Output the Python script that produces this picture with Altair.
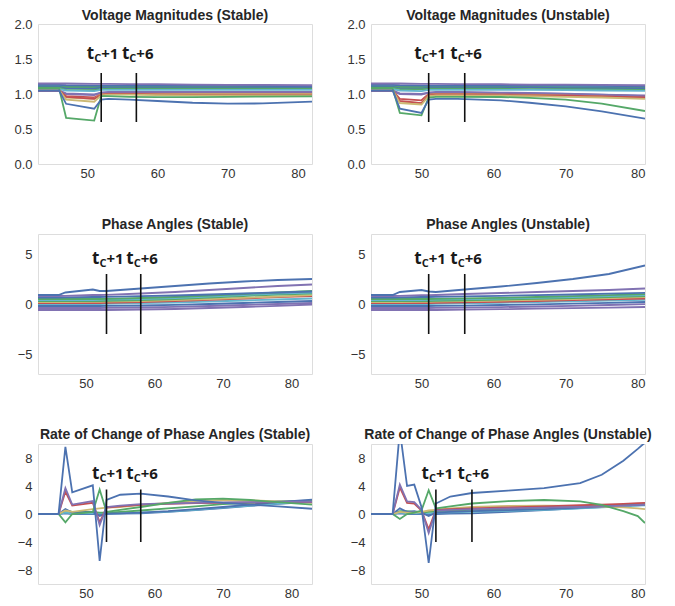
import altair as alt
import pandas as pd

PALETTE = {"blue": "#4C72B0", "green": "#55A868", "red": "#C44E52",
           "purple": "#8172B2", "yellow": "#CCB974", "cyan": "#64B5CD"}

# ---------------- Voltage magnitudes (stable) ----------------
vs_x = [43, 46, 47, 51, 52, 53, 56, 60, 65, 70, 75, 82]
vs_series = {
    "cyan2":   [1.12, 1.12, 1.11, 1.11, 1.11, 1.11, 1.11, 1.11, 1.11, 1.11, 1.11, 1.11],
    "green3":  [1.11, 1.11, 1.10, 1.10, 1.10, 1.10, 1.10, 1.10, 1.10, 1.10, 1.10, 1.10],
    "blue2":   [1.10, 1.10, 1.08, 1.075, 1.09, 1.09, 1.09, 1.09, 1.09, 1.09, 1.09, 1.09],
    "green2":  [1.09, 1.09, 1.06, 1.055, 1.07, 1.075, 1.075, 1.075, 1.075, 1.075, 1.075, 1.075],
    "cyan1":   [1.07, 1.07, 1.05, 1.04, 1.06, 1.06, 1.06, 1.06, 1.06, 1.06, 1.06, 1.06],
    "purple3": [1.04, 1.04, 1.00, 0.985, 1.02, 1.02, 1.02, 1.02, 1.02, 1.02, 1.02, 1.02],
    "red2":    [1.05, 1.05, 0.97, 0.95, 1.00, 1.01, 1.01, 1.01, 1.01, 1.01, 1.01, 1.01],
    "yellow2": [1.06, 1.06, 0.95, 0.93, 1.00, 1.00, 1.00, 1.00, 1.00, 1.00, 1.00, 1.00],
    "purple1": [1.05, 1.05, 1.01, 0.995, 1.02, 1.03, 1.03, 1.03, 1.03, 1.03, 1.03, 1.03],
    "red1":    [1.06, 1.06, 0.96, 0.93, 0.99, 1.00, 1.00, 0.995, 0.99, 0.99, 0.99, 0.99],
    "yellow1": [1.06, 1.06, 0.92, 0.89, 0.98, 0.99, 0.99, 0.985, 0.98, 0.98, 0.98, 0.98],
    "green1":  [1.08, 1.08, 0.66, 0.62, 0.97, 0.97, 0.96, 0.955, 0.955, 0.96, 0.962, 0.967],
    "blue1":   [1.05, 1.05, 0.86, 0.79, 0.92, 0.93, 0.92, 0.90, 0.875, 0.862, 0.865, 0.89],
    "blue3":   [1.13, 1.13, 1.125, 1.12, 1.12, 1.12, 1.12, 1.12, 1.12, 1.12, 1.115, 1.11],
    "purple2": [1.15, 1.15, 1.15, 1.145, 1.145, 1.145, 1.14, 1.14, 1.135, 1.13, 1.13, 1.125],
}
vs_marks = [52, 57]

# ---------------- Voltage magnitudes (unstable) ----------------
vu_x = [43, 46, 47, 50, 51, 52, 55, 61, 65, 70, 75, 81]
vu_series = {
    "cyan2":   [1.12, 1.12, 1.11, 1.11, 1.11, 1.11, 1.11, 1.11, 1.11, 1.105, 1.105, 1.10],
    "green3":  [1.11, 1.11, 1.10, 1.10, 1.10, 1.10, 1.10, 1.10, 1.10, 1.095, 1.09, 1.09],
    "blue2":   [1.10, 1.10, 1.08, 1.075, 1.09, 1.09, 1.09, 1.09, 1.09, 1.085, 1.085, 1.08],
    "green2":  [1.09, 1.09, 1.07, 1.065, 1.075, 1.075, 1.075, 1.075, 1.07, 1.07, 1.065, 1.06],
    "cyan1":   [1.07, 1.07, 1.05, 1.04, 1.06, 1.06, 1.06, 1.06, 1.06, 1.055, 1.05, 1.045],
    "purple3": [1.04, 1.04, 1.00, 0.99, 1.02, 1.02, 1.02, 1.015, 1.01, 1.00, 0.99, 0.98],
    "red2":    [1.05, 1.05, 0.93, 0.91, 1.00, 1.00, 1.00, 1.00, 0.995, 0.99, 0.98, 0.97],
    "yellow2": [1.06, 1.06, 0.89, 0.87, 0.99, 0.995, 0.995, 0.99, 0.985, 0.98, 0.97, 0.955],
    "purple1": [1.05, 1.05, 1.01, 1.00, 1.02, 1.03, 1.03, 1.02, 1.015, 1.005, 0.99, 0.97],
    "red1":    [1.06, 1.06, 0.90, 0.87, 0.98, 0.99, 0.99, 0.985, 0.98, 0.975, 0.965, 0.95],
    "yellow1": [1.06, 1.06, 0.87, 0.85, 0.97, 0.98, 0.98, 0.975, 0.97, 0.96, 0.95, 0.93],
    "green1":  [1.08, 1.08, 0.73, 0.695, 0.95, 0.96, 0.96, 0.957, 0.945, 0.919, 0.862, 0.757],
    "blue1":   [1.05, 1.05, 0.79, 0.73, 0.92, 0.93, 0.93, 0.91, 0.875, 0.824, 0.752, 0.648],
    "blue3":   [1.13, 1.13, 1.125, 1.12, 1.12, 1.12, 1.12, 1.12, 1.12, 1.12, 1.115, 1.11],
    "purple2": [1.15, 1.15, 1.15, 1.145, 1.145, 1.145, 1.14, 1.14, 1.135, 1.135, 1.13, 1.125],
}
vu_marks = [51, 56]

# ---------------- Phase angles (stable) ----------------
ps_x = [43, 46, 47, 51, 52, 53, 58, 63, 68, 73, 78, 83]
ps_series = {
    "purple2": [-0.6, -0.6, -0.6, -0.6, -0.6, -0.6, -0.55, -0.5, -0.4, -0.3, -0.18, -0.05],
    "purple3": [-0.4, -0.4, -0.4, -0.4, -0.4, -0.39, -0.35, -0.28, -0.2, -0.1, 0.0, 0.1],
    "blue3":   [-0.2, -0.2, -0.2, -0.2, -0.2, -0.19, -0.15, -0.08, 0.0, 0.1, 0.2, 0.3],
    "cyan2":   [0.0, 0.0, 0.0, 0.0, 0.0, 0.02, 0.08, 0.15, 0.25, 0.35, 0.45, 0.55],
    "red1":    [0.1, 0.1, 0.1, 0.1, 0.1, 0.12, 0.18, 0.3, 0.42, 0.55, 0.68, 0.78],
    "yellow1": [0.2, 0.2, 0.2, 0.22, 0.22, 0.24, 0.3, 0.4, 0.5, 0.62, 0.75, 0.88],
    "green2":  [0.3, 0.3, 0.3, 0.3, 0.3, 0.32, 0.4, 0.5, 0.65, 0.8, 0.95, 1.05],
    "cyan1":   [0.4, 0.4, 0.4, 0.4, 0.42, 0.44, 0.5, 0.6, 0.75, 0.9, 1.05, 1.15],
    "green1":  [0.5, 0.5, 0.5, 0.5, 0.5, 0.52, 0.6, 0.7, 0.85, 1.0, 1.15, 1.3],
    "blue2":   [0.65, 0.65, 0.66, 0.7, 0.7, 0.72, 0.78, 0.85, 0.95, 1.05, 1.15, 1.25],
    "purple1": [0.8, 0.8, 0.82, 0.9, 0.9, 0.92, 1.05, 1.2, 1.4, 1.6, 1.8, 1.95],
    "blue1":   [0.9, 0.9, 1.15, 1.45, 1.3, 1.3, 1.55, 1.8, 2.05, 2.25, 2.4, 2.5],
}
ps_marks = [53, 58]

# ---------------- Phase angles (unstable) ----------------
pu_x = [43, 46, 47, 50, 51, 52, 56, 61, 66, 71, 76, 81]
pu_series = {
    "purple2": [-0.6, -0.6, -0.6, -0.6, -0.6, -0.6, -0.57, -0.52, -0.47, -0.42, -0.36, -0.3],
    "purple3": [-0.4, -0.4, -0.4, -0.4, -0.4, -0.39, -0.36, -0.31, -0.25, -0.18, -0.1, -0.02],
    "blue3":   [-0.2, -0.2, -0.2, -0.2, -0.2, -0.19, -0.16, -0.1, -0.04, 0.04, 0.12, 0.2],
    "cyan2":   [0.0, 0.0, 0.0, 0.0, 0.0, 0.02, 0.06, 0.12, 0.18, 0.26, 0.34, 0.42],
    "red1":    [0.1, 0.1, 0.1, 0.1, 0.1, 0.12, 0.16, 0.22, 0.3, 0.38, 0.46, 0.55],
    "yellow1": [0.2, 0.2, 0.2, 0.22, 0.22, 0.24, 0.28, 0.34, 0.42, 0.5, 0.6, 0.7],
    "green2":  [0.3, 0.3, 0.3, 0.3, 0.3, 0.32, 0.37, 0.44, 0.52, 0.6, 0.7, 0.8],
    "cyan1":   [0.4, 0.4, 0.4, 0.4, 0.42, 0.44, 0.48, 0.55, 0.62, 0.7, 0.8, 0.9],
    "green1":  [0.5, 0.5, 0.5, 0.5, 0.5, 0.52, 0.56, 0.62, 0.7, 0.78, 0.88, 0.98],
    "blue2":   [0.65, 0.65, 0.66, 0.7, 0.7, 0.72, 0.76, 0.82, 0.88, 0.95, 1.03, 1.12],
    "purple1": [0.8, 0.8, 0.82, 0.88, 0.88, 0.9, 1.0, 1.1, 1.2, 1.3, 1.4, 1.55],
    "blue1":   [0.9, 0.9, 1.2, 1.4, 1.25, 1.2, 1.45, 1.75, 2.1, 2.5, 3.0, 3.85],
}
pu_marks = [51, 56]

# ---------------- Rate of change of phase angles (stable) ----------------
rs_x = [43, 46, 47, 48, 51, 52, 53, 55, 58, 62, 66, 70, 74, 78, 83]
rs_series = {
    "blue3":   [0, 0, 0.1, 0, 0, 0, 0, 0.05, 0.1, 0.3, 0.55, 0.85, 1.15, 1.45, 1.75],
    "cyan1":   [0, 0, 0.2, 0.1, 0.1, 0.1, 0.1, 0.1, 0.2, 0.35, 0.6, 0.9, 1.2, 1.5, 1.8],
    "green2":  [0, 0, 0.5, 0.3, 0.3, 0.2, 0.2, 0.3, 0.5, 0.8, 1.1, 1.4, 1.6, 1.8, 1.9],
    "blue2":   [0, 0, 0.7, 0.2, 0.3, -0.3, 0.1, 0.1, 0.2, 0.4, 0.7, 1.0, 1.35, 1.7, 2.05],
    "yellow1": [0, 0, 0.5, 0.3, 0.7, 0.8, 0.9, 1.0, 1.3, 1.6, 1.85, 2.0, 1.95, 1.8, 1.6],
    "red1":    [0, 0, 3.2, 1.2, 1.6, -1.2, 0.9, 1.1, 1.3, 1.45, 1.55, 1.6, 1.65, 1.7, 1.7],
    "purple1": [0, 0, 3.7, 1.35, 1.85, -1.6, 1.0, 1.2, 1.4, 1.5, 1.6, 1.65, 1.7, 1.75, 1.75],
    "green1":  [0, 0, -1.2, 0, 0.3, 3.5, 0.3, 0.6, 1.0, 1.6, 2.1, 2.2, 2.0, 1.7, 1.35],
    "blue1":   [0, 0, 9.6, 3.1, 4.1, -6.7, 2.0, 2.75, 2.9, 2.5, 1.95, 1.6, 1.35, 1.1, 0.75],
}
rs_marks = [53, 58]

# ---------------- Rate of change of phase angles (unstable) ----------------
ru_x = [43, 46, 47, 48, 49, 50, 51, 52, 54, 57, 62, 67, 72, 75, 78, 80, 81]
ru_series = {
    "blue3":   [0, 0, 0.1, 0, 0, 0, 0, 0, 0.05, 0.1, 0.3, 0.55, 0.85, 1.0, 1.15, 1.25, 1.3],
    "cyan1":   [0, 0, 0.2, 0.1, 0.1, 0.1, 0.1, 0.2, 0.25, 0.3, 0.45, 0.6, 0.8, 0.95, 1.1, 1.2, 1.25],
    "green2":  [0, 0, 0.4, 0.4, 0.3, 0.2, 0.3, 0.4, 0.5, 0.6, 0.75, 0.9, 1.05, 1.2, 1.3, 1.4, 1.45],
    "blue2":   [0, 0, 0.8, 0.3, 0.4, 0.2, -0.3, 0.2, 0.3, 0.4, 0.55, 0.7, 0.9, 1.05, 1.2, 1.3, 1.35],
    "yellow1": [0, 0, 0.3, 0.2, 0.2, 0.3, 0.5, 0.6, 0.8, 1.0, 1.15, 1.2, 1.15, 1.05, 0.95, 0.8, 0.7],
    "red1":    [0, 0, 3.8, 1.6, 1.5, 0.5, -2.2, 0.6, 0.7, 0.8, 0.95, 1.1, 1.25, 1.35, 1.45, 1.55, 1.6],
    "purple1": [0, 0, 4.2, 1.8, 1.7, 0.6, -2.7, 0.5, 0.6, 0.7, 0.8, 0.9, 1.0, 1.1, 1.2, 1.3, 1.35],
    "green1":  [0, 0, -0.7, 0, 0.2, 0.5, 3.4, 0.8, 1.1, 1.5, 1.85, 2.0, 1.8, 1.3, 0.4, -0.3, -1.3],
    "blue1":   [0, 0, 12.0, 4.0, 4.2, 1.0, -7.0, 1.5, 2.5, 3.0, 3.35, 3.7, 4.4, 5.6, 7.6, 9.3, 10.2],
}
ru_marks = [52, 57]

TITLE_FONT = "Liberation Sans"
X_TICKS = [50, 60, 70, 80]


def panel(title, xs, series, xdom, ydom, yticks, yfmt, marks, rule_lo, rule_hi, label_y,
          title_offset):
    rows = []
    for name, vals in series.items():
        color = PALETTE[name.rstrip("0123456789")]
        for x, v in zip(xs, vals):
            rows.append({"x": x, "y": v, "s": name, "c": color})
    df = pd.DataFrame(rows)
    xenc = alt.X("x:Q", scale=alt.Scale(domain=xdom, nice=False, zero=False),
                 axis=alt.Axis(values=X_TICKS, title=None, labelOverlap=False))
    yenc = alt.Y("y:Q", scale=alt.Scale(domain=ydom, nice=False, zero=False),
                 axis=alt.Axis(values=yticks, format=yfmt, title=None, labelOverlap=False))
    lines = alt.Chart(df).mark_line(clip=True, strokeWidth=1.8).encode(
        x=xenc, y=yenc, color=alt.Color("c:N", scale=None), detail="s:N")
    rdf = pd.DataFrame({"x": marks, "y": [rule_lo] * len(marks), "y2": [rule_hi] * len(marks)})
    rules = alt.Chart(rdf).mark_rule(color="#111111", strokeWidth=1.6).encode(
        x=xenc, y=yenc, y2="y2:Q")
    ldf = pd.DataFrame({"x": marks, "y": [label_y] * len(marks), "n": ["+1", "+6"]})
    base = alt.Chart(ldf).encode(x=xenc, y=yenc)
    t_txt = base.mark_text(text="t", align="right", dx=-7, baseline="alphabetic",
                           font="Open Sans", fontWeight="bold", fontSize=17,
                           color="#1a1a1a")
    c_txt = base.mark_text(text="C", align="left", dx=-7, dy=3, baseline="alphabetic",
                           font="Open Sans", fontWeight="bold", fontSize=11,
                           color="#1a1a1a")
    n_txt = base.mark_text(align="left", dx=0, baseline="alphabetic",
                           font="Open Sans", fontWeight="bold", fontSize=15,
                           color="#1a1a1a").encode(text="n:N")
    return alt.layer(lines, rules, t_txt, c_txt, n_txt).properties(
        width=274, height=140,
        title=alt.TitleParams(title, font=TITLE_FONT, fontSize=14, fontWeight="bold",
                              color="#262626", offset=title_offset))


p1 = panel("Voltage Magnitudes (Stable)", vs_x, vs_series, [43, 82], [0, 2],
           [0, 0.5, 1.0, 1.5, 2.0], ".1f", vs_marks, 0.6, 1.3, 1.5, -5)
p2 = panel("Voltage Magnitudes (Unstable)", vu_x, vu_series, [43, 81], [0, 2],
           [0, 0.5, 1.0, 1.5, 2.0], ".1f", vu_marks, 0.6, 1.3, 1.5, -5)
p3 = panel("Phase Angles (Stable)", ps_x, ps_series, [43, 83], [-7, 7],
           [-5, 0, 5], "d", ps_marks, -3, 3, 4.0, 2)
p4 = panel("Phase Angles (Unstable)", pu_x, pu_series, [43, 81], [-7, 7],
           [-5, 0, 5], "d", pu_marks, -3, 3, 4.0, 2)
p5 = panel("Rate of Change of Phase Angles (Stable)", rs_x, rs_series, [43, 83], [-10, 10],
           [-8, -4, 0, 4, 8], "d", rs_marks, -4, 3.5, 5.0, 2)
p6 = panel("Rate of Change of Phase Angles (Unstable)", ru_x, ru_series, [43, 81], [-10, 10],
           [-8, -4, 0, 4, 8], "d", ru_marks, -4, 3.5, 5.0, 2)

chart = alt.concat(p1, p2, p3, p4, p5, p6, columns=2,
                   spacing={"row": 36, "column": 33}).properties(
    padding={"left": 5, "top": 0, "right": 5, "bottom": 0}
).configure_view(stroke="#dddddd", strokeWidth=1).configure_axis(
    grid=False, ticks=False, domain=False, labelFont="Liberation Sans",
    labelFontSize=13, labelColor="#333333",
    labelOverlap=False, labelFlush=False
).configure_axisX(labelPadding=3).configure_axisY(labelPadding=6)

chart.save("out.html", embed_options={"renderer": "svg", "actions": False})
